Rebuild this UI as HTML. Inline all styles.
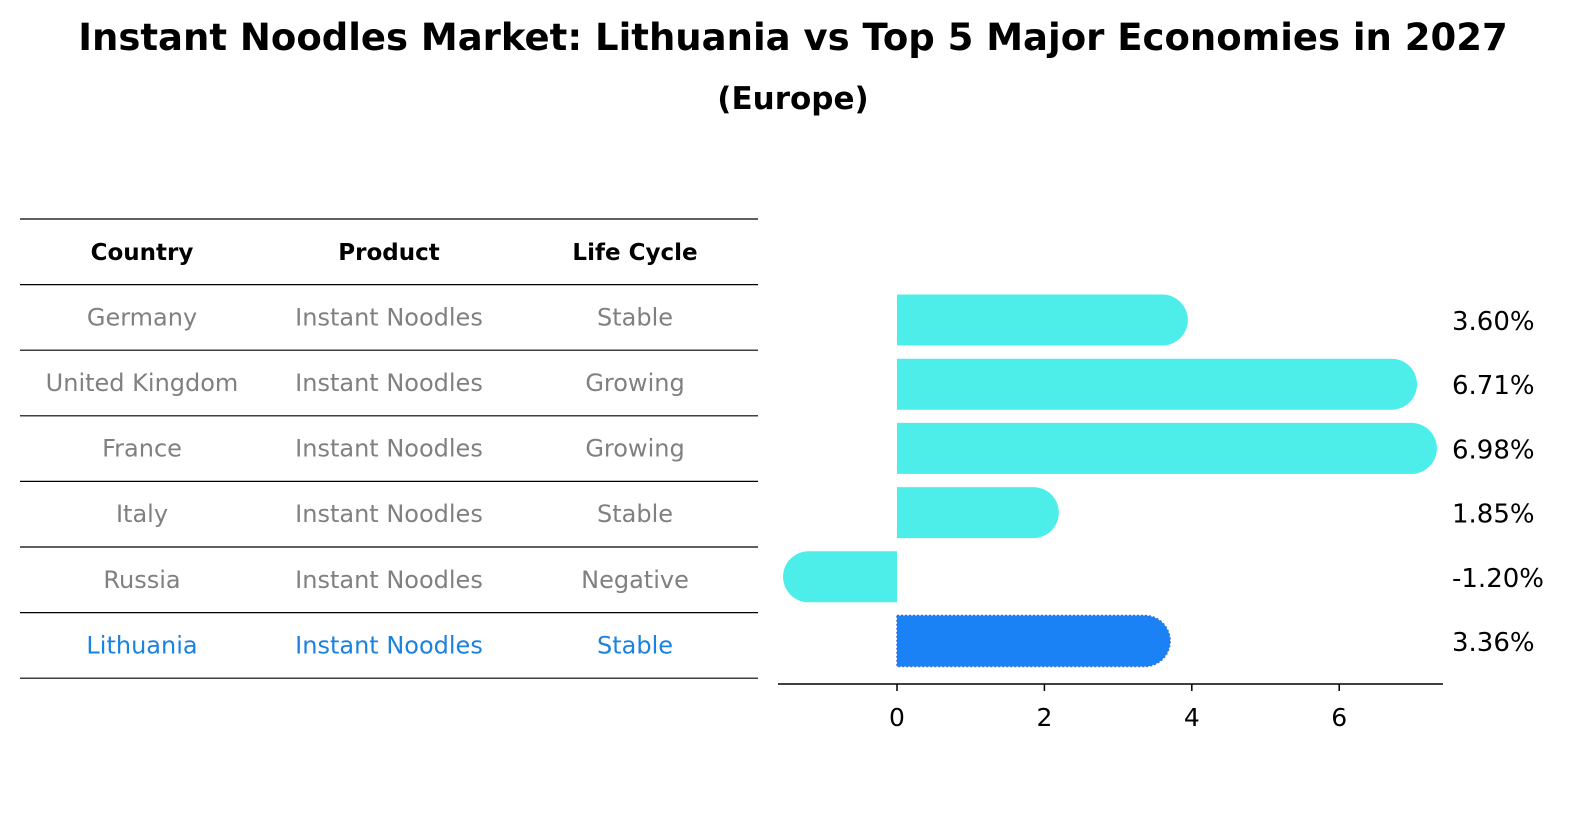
<!DOCTYPE html>
<html><head><meta charset="utf-8"><style>
html,body{margin:0;padding:0;background:#fff;overflow:hidden;width:1596px;height:823px;}
svg{display:block;}
</style></head><body>
<svg width="1596" height="823" xmlns="http://www.w3.org/2000/svg" font-family="'DejaVu Sans', 'Liberation Sans', sans-serif">
<text x="793" y="50" text-anchor="middle" font-size="37" font-weight="bold">Instant Noodles Market: Lithuania vs Top 5 Major Economies in 2027</text>
<text x="793" y="109" text-anchor="middle" font-size="31" font-weight="bold">(Europe)</text>
<g id="table"></g>
<g id="bars"></g>
</svg>
<script>
const countries=["Germany","United Kingdom","France","Italy","Russia","Lithuania"];
const products=["Instant Noodles","Instant Noodles","Instant Noodles","Instant Noodles","Instant Noodles","Instant Noodles"];
const lifecycle=["Stable","Growing","Growing","Stable","Negative","Stable"];
const values=[3.60,6.71,6.98,1.85,-1.20,3.36];
const ticks=[0,2,4,6];
const NS="http://www.w3.org/2000/svg";
function mk(tag,attrs,parent,text){const e=document.createElementNS(NS,tag);for(const k in attrs)e.setAttribute(k,attrs[k]);if(text!==undefined)e.textContent=text;parent.appendChild(e);return e;}
const tb=document.getElementById('table');
const colX=[142,389,635];
const rowTop=219,rowH=65.6;
const heads=["Country","Product","Life Cycle"];
heads.forEach((h,i)=>{const t=mk('text',{x:colX[i],y:rowTop+rowH/2+8,'text-anchor':'middle','font-size':23,'font-weight':'bold'},tb,h);

});
for(let r=0;r<=countries.length+1;r++){const l=mk('line',{x1:20,x2:758,y1:rowTop+r*rowH,y2:rowTop+r*rowH,stroke:'#000','stroke-width':1.2},tb);

}
countries.forEach((c,r)=>{const y=rowTop+(r+1)*rowH+rowH/2+8;const col=r===countries.length-1?'#1a82e0':'#808080';
[c,products[r],lifecycle[r]].forEach((v,i)=>{const t=mk('text',{x:colX[i],y:y,'text-anchor':'middle','font-size':24,fill:col},tb,v);

});});
const g=document.getElementById('bars');
const x0=897,ppu=73.7;const xs=v=>x0+v*ppu;
const bc0=320,bstep=64.2,bh=51,rad=25.5;
values.forEach((v,i)=>{const cy=bc0+i*bstep;const top=cy-bh/2;const last=i===values.length-1;
const fill=last?'#1a82f5':'#4deeea';
let d;const xv=xs(v);
if(v>=0){d=`M${x0},${top} L${xv},${top} A${rad},${rad} 0 0 1 ${xv},${top+bh} L${x0},${top+bh} Z`;}
else{d=`M${x0},${top} L${xv},${top} A${rad},${rad} 0 0 0 ${xv},${top+bh} L${x0},${top+bh} Z`;}
const p=mk('path',{d:d,fill:fill},g);
if(last){p.setAttribute('stroke','#3a6fd8');p.setAttribute('stroke-dasharray','2,2');p.setAttribute('stroke-width','1.5');}


const t=mk('text',{x:1452,y:cy+10,'font-size':26},g,v.toFixed(2)+'%');

});
const ax=mk('line',{x1:778,x2:1443,y1:684,y2:684,stroke:'#000','stroke-width':1.5},g);


ticks.forEach(tv=>{const x=xs(tv);const tk=mk('line',{x1:x,x2:x,y1:684,y2:691,stroke:'#000','stroke-width':1.5},g);


const tl=mk('text',{x:x,y:726,'text-anchor':'middle','font-size':25},g,String(tv));

});
</script>
</body></html>
